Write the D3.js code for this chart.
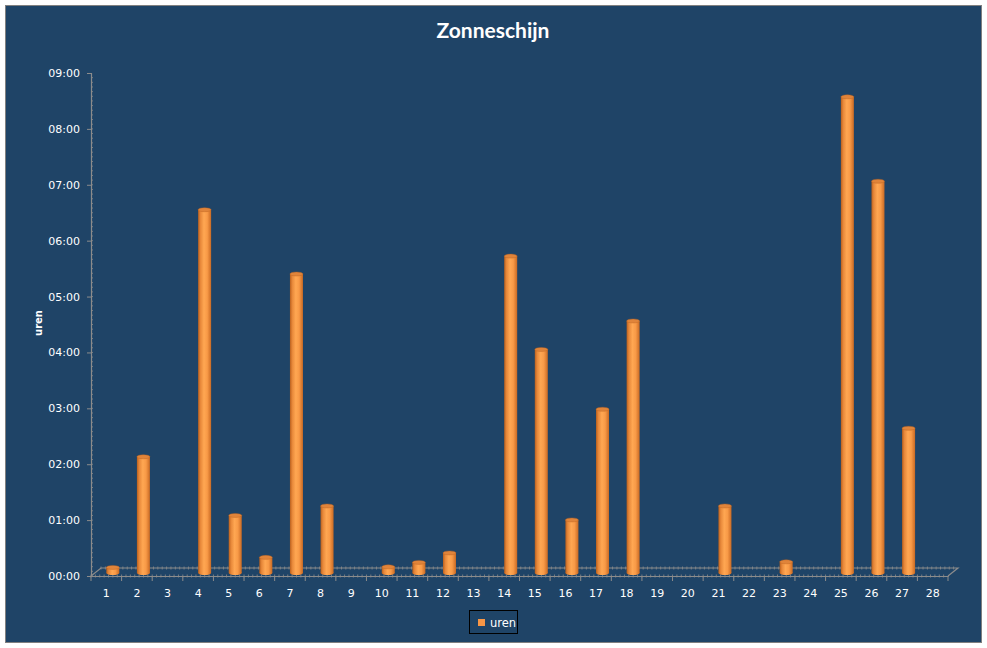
<!DOCTYPE html>
<html><head><meta charset="utf-8">
<script src="https://cdn.jsdelivr.net/npm/d3@7/dist/d3.min.js"></script>
<style>html,body{margin:0;padding:0;background:#fff;}svg{display:block;}</style>
</head><body>
<script>
const days = d3.range(1, 29).map(String);
const hours = [0.1, 2.08, 0, 6.5, 1.03, 0.28, 5.35, 1.2, 0, 0.11, 0.19, 0.36, 0, 5.67, 4.0, 0.95, 2.93, 4.51, 0, 0, 1.2, 0, 0.2, 0, 8.52, 7.01, 2.59, 0];
const yTicks = [0,1,2,3,4,5,6,7,8,9];
const seriesName = "uren";
const chartTitle = "Zonneschijn";
const yTitle = "uren";

const W = 987, H = 648;
const svg = d3.select("body").append("svg").attr("width", W).attr("height", H);
const bg = "#1F4467";
svg.append("rect").attr("x",5.5).attr("y",5.5).attr("width",976).attr("height",637)
  .attr("fill",bg).attr("stroke","#808080").attr("stroke-width",1);

const defs = svg.append("defs");
const g = defs.append("linearGradient").attr("id","cyl").attr("x1","0").attr("x2","1").attr("y1","0").attr("y2","0");
[["0%","#B9601E"],["18%","#E7883A"],["45%","#FFA752"],["70%","#F89A47"],["100%","#C96A24"]]
  .forEach(([o,c])=>g.append("stop").attr("offset",o).attr("stop-color",c));

const x0 = 91, x1 = 948;
const x = d3.scaleBand().domain(days).range([x0, x1]).padding(0);
const y = d3.scaleLinear().domain([0, 9]).range([576, 73]);
const dx = 10, dy = -8;
const axisCol = "#8C8C8C";

svg.append("text").attr("x",493).attr("y",38).attr("text-anchor","middle")
  .attr("font-family","Lato, 'Open Sans', sans-serif").attr("font-weight","bold")
  .attr("font-size",21).attr("fill","#fff").text(chartTitle);

svg.append("text").attr("transform","translate(42,323) rotate(-90)").attr("text-anchor","middle")
  .attr("font-family","'DejaVu Sans', sans-serif").attr("font-weight","bold")
  .attr("font-size",10).attr("fill","#fff").text(yTitle);

const floor = svg.append("g");
floor.append("path").attr("d",`M${x0},${y(0)} L${x0+dx},${y(0)+dy} L${x1+dx},${y(0)+dy} L${x1},${y(0)}`)
  .attr("fill","none").attr("stroke",axisCol).attr("stroke-width",1.2);
const minorX = d3.range(x0+dx, x1+dx, x.bandwidth()/7);
floor.selectAll(".mb").data(minorX).join("line")
  .attr("x1",d=>d).attr("x2",d=>d).attr("y1",y(0)+dy-1.5).attr("y2",y(0)+dy+1.5)
  .attr("stroke",axisCol).attr("stroke-width",0.8);
const minorF = d3.range(x0, x1, x.bandwidth()/7);
floor.selectAll(".mf").data(minorF).join("line")
  .attr("x1",d=>d).attr("x2",d=>d).attr("y1",y(0)-1.5).attr("y2",y(0)+1.5)
  .attr("stroke",axisCol).attr("stroke-width",0.8);

const xAxis = d3.axisBottom(x).tickSize(0).tickPadding(0);
const xg = svg.append("g").attr("transform",`translate(0,${y(0)})`).call(xAxis);
xg.select(".domain").attr("stroke",axisCol).attr("stroke-width",1.2);
xg.selectAll("text").attr("dy","0").attr("y",21).attr("fill","#fff")
  .attr("font-family","'DejaVu Sans', sans-serif").attr("font-size",11);
xg.selectAll(".bt").data(days.concat(["end"])).join("line")
  .attr("x1",(d,i)=>x0+i*x.step()).attr("x2",(d,i)=>x0+i*x.step())
  .attr("y1",0).attr("y2",5).attr("stroke",axisCol).attr("stroke-width",1);

const yAxis = d3.axisLeft(y).tickValues(yTicks).tickSize(4).tickPadding(7)
  .tickFormat(d=>String(d).padStart(2,"0")+":00");
const yg = svg.append("g").attr("transform",`translate(${x0},0)`).call(yAxis);
yg.select(".domain").attr("stroke",axisCol).attr("stroke-width",1.2);
yg.selectAll(".tick line").attr("stroke",axisCol);
yg.selectAll("text").attr("fill","#fff").attr("font-family","'DejaVu Sans', sans-serif").attr("font-size",11);
yg.selectAll(".ym").data(d3.range(0, 9, 1/12)).join("line")
  .attr("x1",0).attr("x2",2).attr("y1",d=>y(d)).attr("y2",d=>y(d))
  .attr("stroke",axisCol).attr("stroke-width",0.8);

const bw = 13;
const data = days.map((d,i)=>({d, v: hours[i]})).filter(o=>o.v>0);
const bars = svg.append("g");
data.forEach(o=>{
  const cx = x(o.d) + x.bandwidth()/2 + 6.5;
  const top = y(o.v) - 3, base = y(0) - 3;
  const grp = bars.append("g");
  grp.append("ellipse").attr("cx",cx).attr("cy",base).attr("rx",bw/2).attr("ry",2).attr("fill","url(#cyl)");
  grp.append("rect").attr("x",cx-bw/2).attr("y",top).attr("width",bw).attr("height",Math.max(0,base-top)).attr("fill","url(#cyl)");
  grp.append("ellipse").attr("cx",cx).attr("cy",top).attr("rx",bw/2).attr("ry",2).attr("fill","#E0843A").attr("stroke","#B8601E").attr("stroke-width",0.4);
});

const lg = svg.append("g");
lg.append("rect").attr("x",469.5).attr("y",610.5).attr("width",48).attr("height",23)
  .attr("fill","none").attr("stroke","#000").attr("stroke-width",1);
lg.append("rect").attr("x",478).attr("y",619).attr("width",7).attr("height",7).attr("fill","#F79646");
lg.append("text").attr("x",490).attr("y",627).attr("fill","#fff")
  .attr("font-family","'DejaVu Sans', sans-serif").attr("font-size",11.5).text(seriesName);
</script>
</body></html>
